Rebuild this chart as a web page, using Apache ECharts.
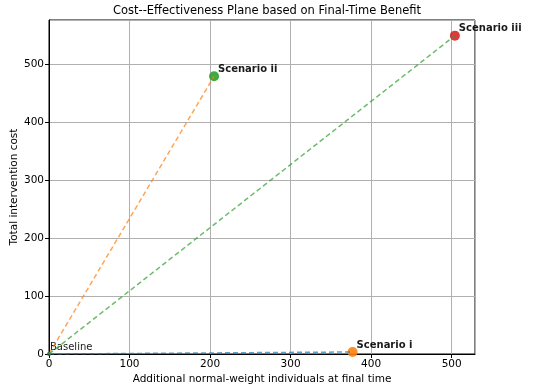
<!DOCTYPE html>
<html><head><meta charset="utf-8">
<script src="https://cdn.jsdelivr.net/npm/echarts@6/dist/echarts.min.js"></script>
<style>html,body{margin:0;padding:0;background:#fff}#c{width:550px;height:390px}</style>
</head><body><div id="c"></div>
<script>
const names = ['Baseline', 'Scenario i', 'Scenario ii', 'Scenario iii'];
const effects = [0, 377, 205, 504];
const costs = [0, 3.5, 479, 549];
const pointColors = ['#1f77b4', '#ff7f0e', '#2ca02c', '#d62728'];
const lineColors = ['#1f77b4', '#ff7f0e', '#2ca02c'];
const xTicks = [0, 100, 200, 300, 400, 500];
const yTicks = [0, 100, 200, 300, 400, 500];

const font = 'DejaVu Sans';
const series = [];
for (let i = 1; i < names.length; i++) {
  series.push({
    type: 'line', data: [[effects[0], costs[0]], [effects[i], costs[i]]],
    symbol: 'none', clip: true, z: 2,
    lineStyle: { color: lineColors[i - 1], width: 1.5, type: [5, 3], opacity: 0.7 }
  });
}
series.push({
  type: 'scatter', clip: true, z: 1,
  data: names.map((n, i) => ({
    value: [effects[i], costs[i]], name: n,
    symbolSize: i === 0 ? 4 : 10,
    itemStyle: { color: i === 0 ? '#1d5a3a' : pointColors[i], opacity: 0.9 },
    label: {
      show: true, formatter: n, position: i === 0 ? [3, 0] : [9, 3],
      align: 'left', verticalAlign: 'bottom',
      fontFamily: font, fontSize: 10, color: '#000',
      fontWeight: i === 0 ? 'normal' : 'bold'
    }
  }))
});

const chart = echarts.init(document.getElementById('c'), null, { renderer: 'canvas' });
chart.setOption({
  animation: false,
  title: { text: 'Cost--Effectiveness Plane based on Final-Time Benefit', left: 262, textAlign: 'center', top: 0,
    textStyle: { fontFamily: font, fontSize: 11.5, fontWeight: 'normal', color: '#000' } },
  grid: { left: 49, right: 75, top: 20, bottom: 36, outerBoundsMode: 'none', containLabel: false,
    show: true, borderColor: '#000', borderWidth: 1, backgroundColor: 'transparent' },
  xAxis: {
    type: 'value', min: 0, max: 529, interval: 100,
    name: 'Additional normal-weight individuals at final time', nameLocation: 'middle', nameGap: 20,
    nameMoveOverlap: false,
    nameTextStyle: { fontFamily: font, fontSize: 10.5, color: '#000' },
    axisLine: { show: true, lineStyle: { color: '#000', width: 1 } },
    axisTick: { show: true, length: 4, lineStyle: { color: '#000' } },
    axisLabel: { fontFamily: font, fontSize: 10.5, color: '#000', margin: 5, showMaxLabel: false,
      formatter: v => xTicks.includes(v) ? String(v) : '' },
    splitLine: { show: true, lineStyle: { color: '#b0b0b0', width: 1 } }
  },
  yAxis: {
    type: 'value', min: 0, max: 576, interval: 100,
    name: 'Total intervention cost', nameLocation: 'middle', nameGap: 29,
    nameMoveOverlap: false,
    nameTextStyle: { fontFamily: font, fontSize: 10.5, color: '#000' },
    axisLine: { show: true, lineStyle: { color: '#000', width: 1 } },
    axisTick: { show: true, length: 4, lineStyle: { color: '#000' } },
    axisLabel: { fontFamily: font, fontSize: 10.5, color: '#000', margin: 5, showMaxLabel: false,
      formatter: v => yTicks.includes(v) ? String(v) : '' },
    splitLine: { show: true, lineStyle: { color: '#b0b0b0', width: 1 } }
  },
  series: series
});
</script></body></html>
